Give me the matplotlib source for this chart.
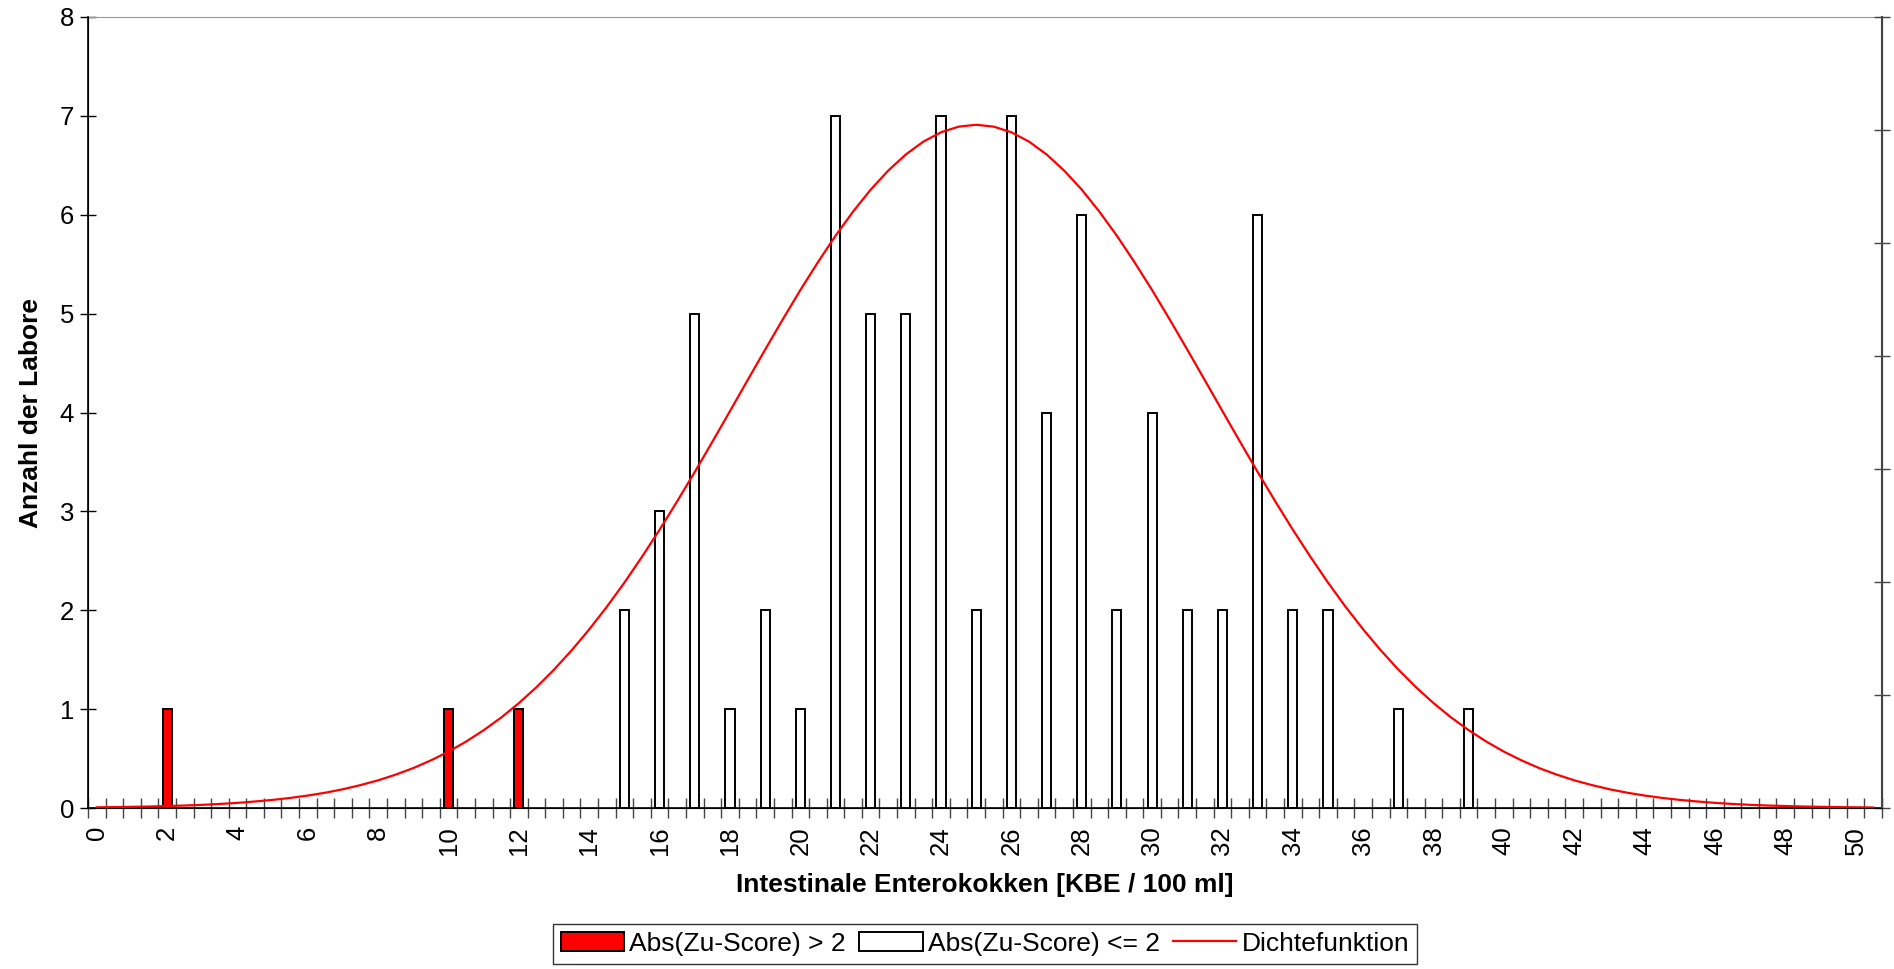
import matplotlib
matplotlib.use("Agg")
import matplotlib.pyplot as plt
from matplotlib.patches import Patch
from matplotlib.lines import Line2D

plt.rcParams['font.family'] = ['Liberation Sans', 'DejaVu Sans']

# Laborwerte: Zu-Score > 2 (rot) und <= 2 (weiss)
out_x = [2, 10, 12]
out_n = [1, 1, 1]
in_x = [15, 16, 17, 18, 19, 20, 21, 22, 23, 24, 25, 26, 27, 28, 29, 30, 31, 32, 33, 34, 35, 37, 39]
in_n = [2, 3, 5, 1, 2, 1, 7, 5, 5, 7, 2, 7, 4, 6, 2, 4, 2, 2, 6, 2, 2, 1, 1]

dens_x = [0.5 * k for k in range(102)]
dens_y = [0.007, 0.009, 0.012, 0.015, 0.020, 0.025, 0.032, 0.041, 0.052, 0.066,
          0.082, 0.102, 0.126, 0.155, 0.190, 0.232, 0.280, 0.338, 0.404, 0.482,
          0.570, 0.672, 0.787, 0.916, 1.061, 1.222, 1.400, 1.595, 1.807, 2.035,
          2.280, 2.541, 2.815, 3.102, 3.399, 3.704, 4.014, 4.326, 4.636, 4.941,
          5.238, 5.520, 5.787, 6.032, 6.254, 6.447, 6.610, 6.740, 6.834, 6.891,
          6.910, 6.891, 6.834, 6.740, 6.610, 6.447, 6.254, 6.032, 5.787, 5.520,
          5.238, 4.941, 4.636, 4.326, 4.014, 3.704, 3.399, 3.102, 2.815, 2.541,
          2.280, 2.035, 1.807, 1.595, 1.400, 1.222, 1.061, 0.916, 0.787, 0.672,
          0.570, 0.482, 0.404, 0.338, 0.280, 0.232, 0.190, 0.155, 0.126, 0.102,
          0.082, 0.066, 0.052, 0.041, 0.032, 0.025, 0.020, 0.015, 0.012, 0.009,
          0.007, 0.005]

xlabels = list(range(0, 51, 2))

fig = plt.figure(figsize=(18.94, 9.69), dpi=100)
ax = fig.add_axes([88 / 1894, 1 - 808 / 969, (1882 - 88) / 1894, (808 - 17) / 969])

ax.bar(out_x, out_n, width=0.26, color='#ff0000', edgecolor='black', linewidth=1.4, zorder=2)
ax.bar(in_x, in_n, width=0.26, color='white', edgecolor='black', linewidth=1.4, zorder=2)
ax.plot(dens_x, dens_y, color='#ff0000', linewidth=1.6, zorder=3)

ax.set_xlim(-0.25, 50.75)
ax.set_ylim(0, 8)
ax.set_yticks(range(0, 9))
ax.tick_params(axis='y', direction='inout', length=12, width=1, labelsize=18.5, pad=4)

# ticks between categories, labels on every 2nd value
ax.set_xticks([-0.25 + 0.5 * k for k in range(103)])
ax.set_xticklabels([])
ax.set_xticks(xlabels, minor=True)
ax.set_xticklabels([str(v) for v in xlabels], minor=True, rotation=90, fontsize=18.5)
ax.tick_params(axis='x', which='major', direction='inout', length=14, width=1, color='#444444')
ax.tick_params(axis='x', which='minor', length=0, pad=13)

ax.set_xlabel('Intestinale Enterokokken [KBE / 100 ml]', fontsize=19, fontweight='bold', labelpad=13)
ax.set_ylabel('Anzahl der Labore', fontsize=19, fontweight='bold', labelpad=12)

ax.spines['top'].set_color('#999999')
ax.spines['left'].set_linewidth(1.2)
ax.spines['bottom'].set_linewidth(1.2)

ax2 = ax.twinx()
ax2.set_ylim(0, 7)
ax2.set_yticks(range(0, 8))
ax2.set_yticklabels([])
ax2.tick_params(axis='y', direction='inout', length=12, width=1, color='#444444')
ax2.spines['right'].set_color('#444444')
ax2.spines['right'].set_linewidth(1.5)
ax2.spines['top'].set_visible(False)

handles = [Patch(facecolor='#ff0000', edgecolor='black', linewidth=1.4),
           Patch(facecolor='white', edgecolor='black', linewidth=1.4),
           Line2D([0], [0], color='#ff0000', linewidth=1.6)]
labels = ['Abs(Zu-Score) > 2', 'Abs(Zu-Score) <= 2', 'Dichtefunktion']
leg = fig.legend(handles, labels, loc='upper center', bbox_to_anchor=(985 / 1894, 1 - 924 / 969),
                 ncol=3, fontsize=19, frameon=True, fancybox=False, edgecolor='black',
                 handlelength=2.4, handleheight=0.75, handletextpad=0.2, columnspacing=0.5,
                 borderpad=0.3, borderaxespad=0)
leg.get_frame().set_linewidth(1.0)

fig.savefig('out.png', dpi=100, facecolor='white')
